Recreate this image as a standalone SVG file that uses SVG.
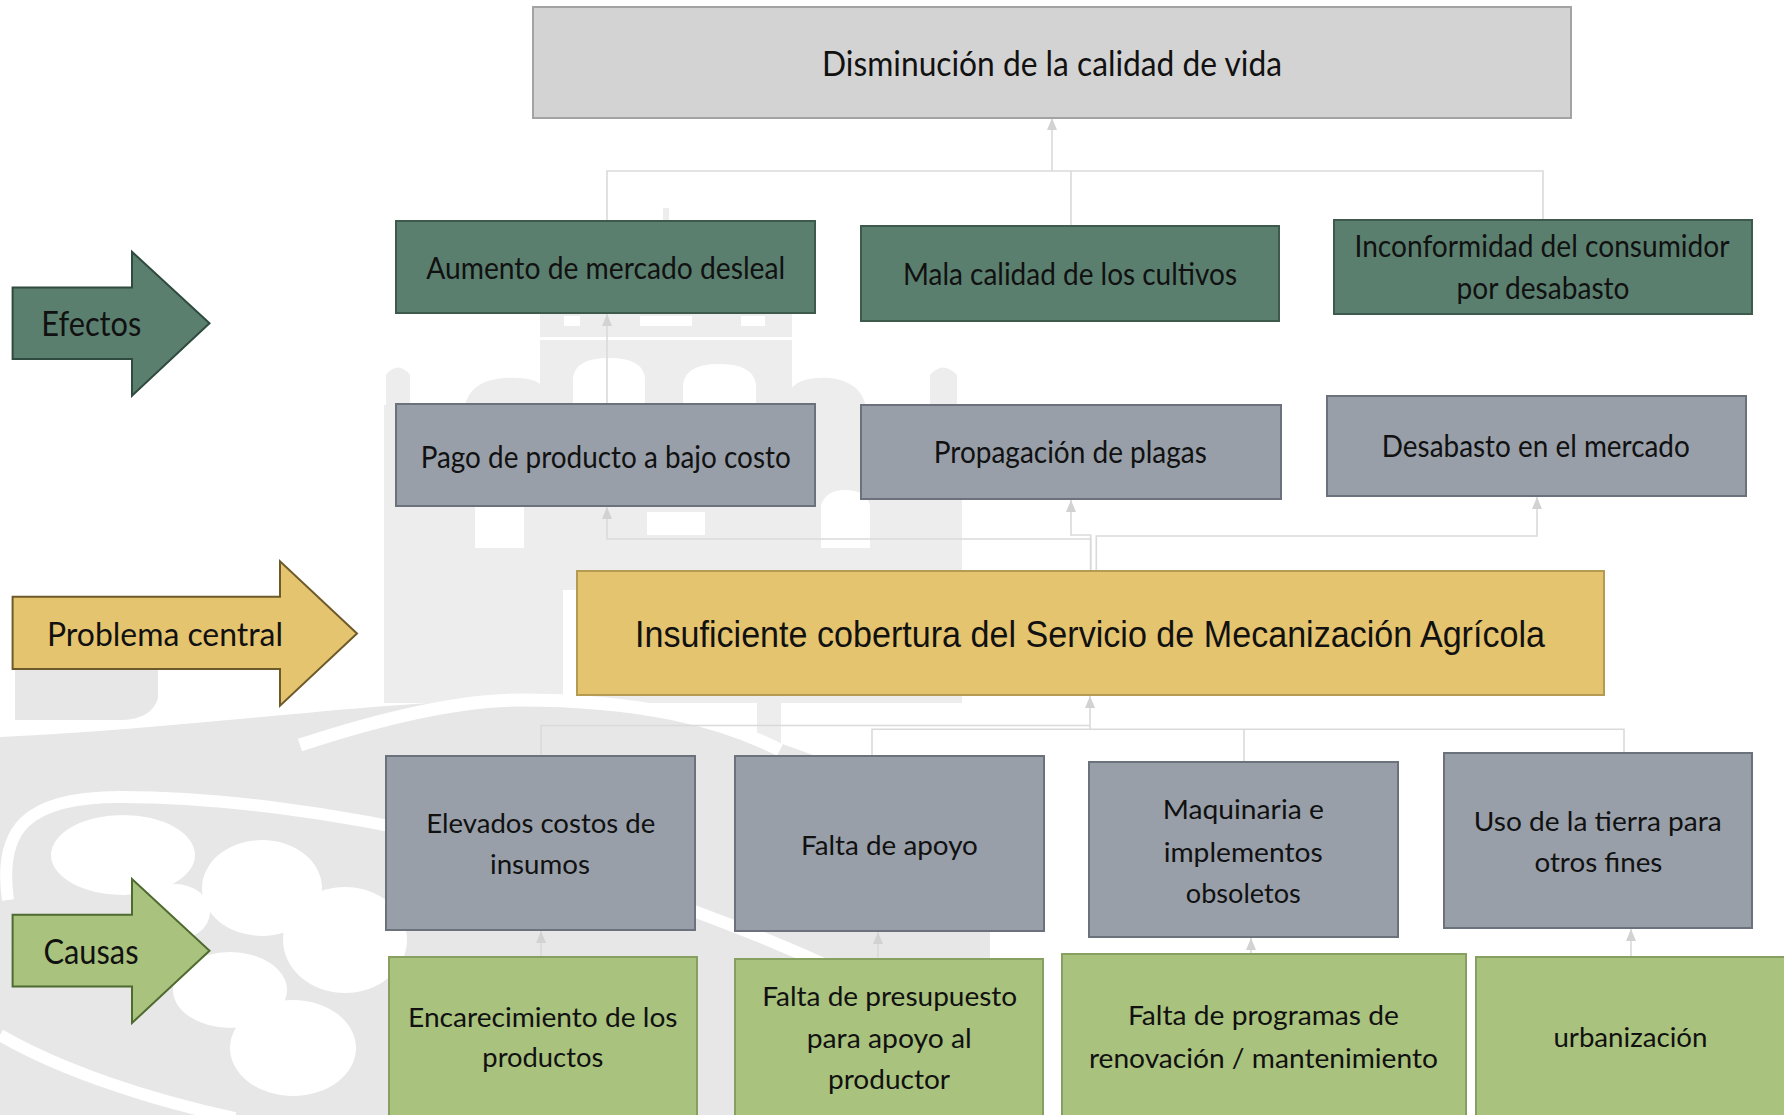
<svg xmlns="http://www.w3.org/2000/svg" width="1784" height="1115" viewBox="0 0 1784 1115">
<style>
  text { font-family: Lato, "Open Sans", "Liberation Sans", sans-serif; fill: #111; text-anchor: middle; }
  .t33 { font-size: 34px; }
  .t29 { font-size: 30.5px; }
  .t27 { font-size: 27.5px; }
  .tc { font-family: "Liberation Sans", Arial, sans-serif; font-size: 37.5px; }
  .top { fill: #d3d3d3; stroke: #a3a3a3; stroke-width: 2; }
  .eff { fill: #5b7f6f; stroke: #3e5a4d; stroke-width: 2; }
  .gry { fill: #989fa9; stroke: #6b727b; stroke-width: 2; }
  .cen { fill: #e5c46f; stroke: #b59a52; stroke-width: 2; }
  .cau { fill: #a9c27e; stroke: #889f62; stroke-width: 2; }
  .con { fill: none; stroke: #dadada; stroke-width: 1.6; }
  .wm { fill: #ededed; }
  .wm2 { fill: #e7e7e7; }
  .wl { fill: none; stroke: #ffffff; }
</style>
<defs>
  <marker id="ah" markerUnits="userSpaceOnUse" markerWidth="12" markerHeight="10" refX="12" refY="5" orient="auto">
    <path d="M0,0 L12,5 L0,10 z" fill="#d2d2d2"/>
  </marker>
</defs>
<rect width="1784" height="1115" fill="#ffffff"/>

<!-- watermark -->
<g id="watermark">
  <rect class="wm" x="663" y="208" width="6" height="16"/>
  <rect class="wm" x="540" y="313" width="252" height="95"/>
  <path class="wm" d="M464,408 Q470,380 504,378 Q540,376 544,390 L544,408 Z"/>
  <path class="wm" d="M790,408 L790,390 Q800,376 830,378 Q862,382 866,408 Z"/>
  <path class="wm" d="M386,408 L386,375 Q398,360 410,375 L410,408 Z"/>
  <path class="wm" d="M930,408 L930,375 Q943,360 957,375 L957,408 Z"/>
  <rect class="wm" x="384" y="405" width="578" height="298"/>
  <rect fill="#fff" x="564" y="316" width="16" height="10"/>
  <rect fill="#fff" x="640" y="316" width="52" height="10"/>
  <rect fill="#fff" x="741" y="316" width="24" height="10"/>
  <rect fill="#fff" x="540" y="337" width="252" height="3"/>
  <path fill="#fff" d="M573,405 L573,378 Q575,358 609,358 Q643,358 645,378 L645,405 Z"/>
  <path fill="#fff" d="M683,405 L683,384 Q686,364 719,364 Q753,364 756,384 L756,405 Z"/>
  <rect fill="#fff" x="475" y="507" width="49" height="41"/>
  <rect fill="#fff" x="647" y="512" width="58" height="23"/>
  <path fill="#fff" d="M821,548 L821,505 Q826,490 845,490 Q866,490 870,505 L870,548 Z"/>
  <rect fill="#fff" x="563" y="590" width="14" height="115"/>
  <rect class="wm" x="757" y="695" width="24" height="60"/>
  <path class="wm2" d="M15,667 L158,667 L158,698 Q152,719 122,720 L15,720 Z"/>
  <path class="wm2" d="M0,737 C200,728 380,700 520,700 C700,700 850,760 990,840 L990,1115 L0,1115 Z"/>
  <path class="wl" stroke-width="13" d="M300,745 C400,712 470,700 520,700 C640,700 720,720 780,750"/>
  <path class="wl" stroke-width="12" d="M8,900 C-2,830 25,797 120,797 C300,797 600,850 900,1000"/>
  <path class="wl" stroke-width="12" d="M0,1035 C60,1070 150,1100 235,1118"/>
  <ellipse fill="#fff" cx="123" cy="855" rx="72" ry="40"/>
  <ellipse fill="#fff" cx="262" cy="888" rx="60" ry="48"/>
  <ellipse fill="#fff" cx="175" cy="912" rx="35" ry="28"/>
  <ellipse fill="#fff" cx="230" cy="990" rx="57" ry="38"/>
  <ellipse fill="#fff" cx="293" cy="1048" rx="63" ry="48"/>
  <ellipse fill="#fff" cx="345" cy="940" rx="62" ry="53"/>
</g>

<!-- connectors -->
<g id="connectors">
  <path class="con" d="M607,221 V171 H1543 V220"/>
  <path class="con" d="M1071,226 V171"/>
  <path class="con" d="M1052,171 V118" marker-end="url(#ah)"/>
  <path class="con" d="M607,404 V314" marker-end="url(#ah)"/>
  <path class="con" d="M1090.7,571 V539 H607 V507" marker-end="url(#ah)"/>
  <path class="con" d="M1090.7,571 V535 H1071 V500" marker-end="url(#ah)"/>
  <path class="con" d="M1096.3,571 V536 H1537 V497" marker-end="url(#ah)"/>
  <path class="con" d="M541,756 V725.5 H1090"/>
  <path class="con" d="M872,756 V729.3 H1624 V753"/>
  <path class="con" d="M1244,762 V729.3"/>
  <path class="con" d="M1090,729.3 V696" marker-end="url(#ah)"/>
  <path class="con" d="M541,957 V931" marker-end="url(#ah)"/>
  <path class="con" d="M878,959 V932" marker-end="url(#ah)"/>
  <path class="con" d="M1251,954 V938" marker-end="url(#ah)"/>
  <path class="con" d="M1631,957 V929" marker-end="url(#ah)"/>
</g>

<!-- side arrows -->
<g id="lbl-efectos">
  <path d="M12.6,287.5 H132 V251.8 L209.5,323.2 L132,395.7 V359 H12.6 Z" fill="#5b7f6f" stroke="#2f4a3e" stroke-width="2"/>
  <text class="t33" x="91.3" y="335.7" textLength="100" lengthAdjust="spacingAndGlyphs">Efectos</text>
</g>
<g id="lbl-problema">
  <path d="M12.6,596.8 H280 V561.3 L357,633.5 L280,705.7 V669 H12.6 Z" fill="#e5c46f" stroke="#6d5a2a" stroke-width="2"/>
  <text style="font-size:32px" x="165" y="646" textLength="236" lengthAdjust="spacingAndGlyphs">Problema central</text>
</g>
<g id="lbl-causas">
  <path d="M12.6,914.8 H132 V879 L209.5,950.7 L132,1023 V986.6 H12.6 Z" fill="#a9c27e" stroke="#4e6a2f" stroke-width="2"/>
  <text class="t33" x="91" y="964" textLength="95" lengthAdjust="spacingAndGlyphs">Causas</text>
</g>

<!-- nodes -->
<g id="n-top">
  <rect class="top" x="533" y="7" width="1038" height="111"/>
  <text class="t33" x="1052" y="76" textLength="460" lengthAdjust="spacingAndGlyphs">Disminución de la calidad de vida</text>
</g>
<g id="n-e1">
  <rect class="eff" x="396" y="221" width="419" height="92"/>
  <text class="t29" x="605.7" y="279" textLength="359" lengthAdjust="spacingAndGlyphs">Aumento de mercado desleal</text>
</g>
<g id="n-e2">
  <rect class="eff" x="861" y="226" width="418" height="95"/>
  <text class="t29" x="1070" y="284.6" textLength="334" lengthAdjust="spacingAndGlyphs">Mala calidad de los cultivos</text>
</g>
<g id="n-e3">
  <rect class="eff" x="1334" y="220" width="418" height="94"/>
  <text class="t29" x="1542" y="257" textLength="375" lengthAdjust="spacingAndGlyphs">Inconformidad del consumidor</text>
  <text class="t29" x="1543" y="298.5" textLength="173" lengthAdjust="spacingAndGlyphs">por desabasto</text>
</g>
<g id="n-g1">
  <rect class="gry" x="396" y="404" width="419" height="102"/>
  <text class="t29" x="605.7" y="467.5" textLength="370" lengthAdjust="spacingAndGlyphs">Pago de producto a bajo costo</text>
</g>
<g id="n-g2">
  <rect class="gry" x="861" y="405" width="420" height="94"/>
  <text class="t29" x="1070.3" y="463" textLength="273" lengthAdjust="spacingAndGlyphs">Propagación de plagas</text>
</g>
<g id="n-g3">
  <rect class="gry" x="1327" y="396" width="419" height="100"/>
  <text class="t29" x="1535.8" y="457" textLength="308" lengthAdjust="spacingAndGlyphs">Desabasto en el mercado</text>
</g>
<g id="n-central">
  <rect class="cen" x="577" y="571" width="1027" height="124"/>
  <text class="tc" x="1090" y="647" textLength="910" lengthAdjust="spacingAndGlyphs">Insuficiente cobertura del Servicio de Mecanización Agrícola</text>
</g>
<g id="n-c1">
  <rect class="gry" x="386" y="756" width="309" height="174"/>
  <text class="t27" x="540.8" y="833.4" textLength="229" lengthAdjust="spacingAndGlyphs">Elevados costos de</text>
  <text class="t27" x="540" y="874.4" textLength="100" lengthAdjust="spacingAndGlyphs">insumos</text>
</g>
<g id="n-c2">
  <rect class="gry" x="735" y="756" width="309" height="175"/>
  <text class="t27" x="889.4" y="854.6" textLength="177" lengthAdjust="spacingAndGlyphs">Falta de apoyo</text>
</g>
<g id="n-c3">
  <rect class="gry" x="1089" y="762" width="309" height="175"/>
  <text class="t27" x="1243.3" y="819.4" textLength="161" lengthAdjust="spacingAndGlyphs">Maquinaria e</text>
  <text class="t27" x="1243.2" y="861.6" textLength="159" lengthAdjust="spacingAndGlyphs">implementos</text>
  <text class="t27" x="1243.3" y="903" textLength="115" lengthAdjust="spacingAndGlyphs">obsoletos</text>
</g>
<g id="n-c4">
  <rect class="gry" x="1444" y="753" width="308" height="175"/>
  <text class="t27" x="1597.8" y="830.8" textLength="248" lengthAdjust="spacingAndGlyphs">Uso de la tierra para</text>
  <text class="t27" x="1598.4" y="871.9" textLength="128" lengthAdjust="spacingAndGlyphs">otros fines</text>
</g>
<g id="n-r1">
  <rect class="cau" x="389" y="957" width="308" height="162"/>
  <text class="t27" x="542.8" y="1026.5" textLength="269.5" lengthAdjust="spacingAndGlyphs">Encarecimiento de los</text>
  <text class="t27" x="542.8" y="1067" textLength="121" lengthAdjust="spacingAndGlyphs">productos</text>
</g>
<g id="n-r2">
  <rect class="cau" x="735" y="959" width="308" height="160"/>
  <text class="t27" x="889.7" y="1005.7" textLength="255" lengthAdjust="spacingAndGlyphs">Falta de presupuesto</text>
  <text class="t27" x="889.2" y="1047.9" textLength="165" lengthAdjust="spacingAndGlyphs">para apoyo al</text>
  <text class="t27" x="889" y="1089" textLength="122" lengthAdjust="spacingAndGlyphs">productor</text>
</g>
<g id="n-r3">
  <rect class="cau" x="1062" y="954" width="404" height="165"/>
  <text class="t27" x="1263.4" y="1024.8" textLength="271" lengthAdjust="spacingAndGlyphs">Falta de programas de</text>
  <text class="t27" x="1263.4" y="1068" textLength="349" lengthAdjust="spacingAndGlyphs">renovación / mantenimiento</text>
</g>
<g id="n-r4">
  <rect class="cau" x="1476" y="957" width="312" height="162"/>
  <text class="t27" x="1630.4" y="1047" textLength="154" lengthAdjust="spacingAndGlyphs">urbanización</text>
</g>
</svg>
